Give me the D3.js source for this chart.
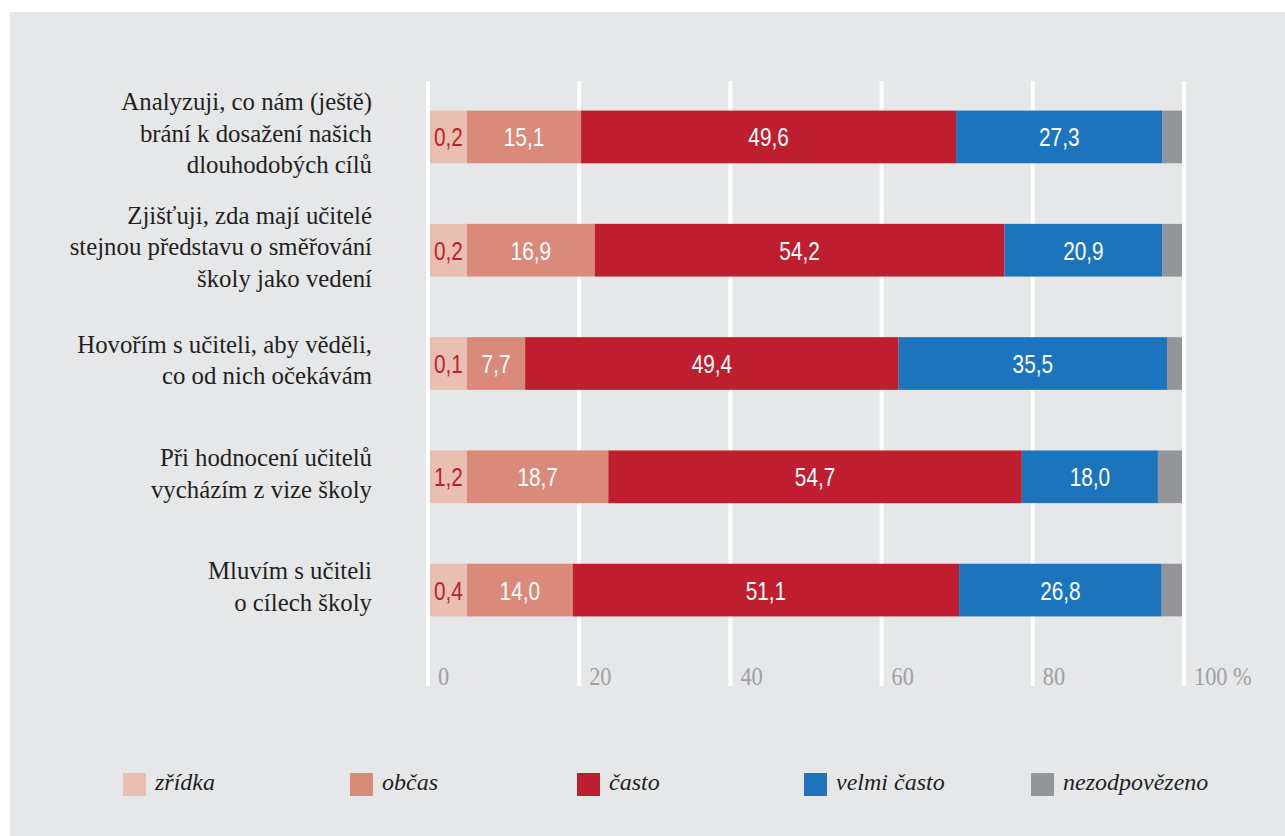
<!DOCTYPE html>
<html>
<head>
<meta charset="utf-8">
<script src="https://cdn.jsdelivr.net/npm/d3@7"></script>
<style>
  html, body { margin: 0; padding: 0; background: #ffffff; }
  svg { display: block; }
</style>
</head>
<body>
<svg id="chart" width="1285" height="836"></svg>
<script>
// ---- data ----
const categories = [
  ["Analyzuji, co nám (ještě)", "brání k dosažení našich", "dlouhodobých cílů"],
  ["Zjišťuji, zda mají učitelé", "stejnou představu o směřování", "školy jako vedení"],
  ["Hovořím s učiteli, aby věděli,", "co od nich očekávám"],
  ["Při hodnocení učitelů", "vycházím z vize školy"],
  ["Mluvím s učiteli", "o cílech školy"]
];
const zridka = [0.2, 0.2, 0.1, 1.2, 0.4];
const obcas = [15.1, 16.9, 7.7, 18.7, 14.0];
const casto = [49.6, 54.2, 49.4, 54.7, 51.1];
const velmiCasto = [27.3, 20.9, 35.5, 18.0, 26.8];
const seriesNames = ["zřídka", "občas", "často", "velmi často", "nezodpovězeno"];
const seriesColors = ["#e9bfb2", "#d98a78", "#be1e2d", "#1c75bc", "#939598"];
const tickValues = [0, 20, 40, 60, 80, 100];
const tickLabels = ["0", "20", "40", "60", "80", "100 %"];
// share of the axis reserved for the small "zřídka" label box
const rareBoxShare = 5.15;

// ---- layout ----
const svg = d3.select("#chart");
svg.append("rect").attr("x", 10).attr("y", 12).attr("width", 1275).attr("height", 824).attr("fill", "#e6e7e8");

const x = d3.scaleLinear().domain([0, 100]).range([428, 1184]);
const y = d3.scaleBand().domain(d3.range(categories.length)).range([80, 647]).paddingInner(0.535).paddingOuter(0.27);

const serif = "'Liberation Serif', 'DejaVu Serif', serif";
const sans = "'Liberation Sans', Arial, sans-serif";

// gridlines
svg.append("g").selectAll("line").data(tickValues).join("line")
  .attr("x1", d => x(d)).attr("x2", d => x(d))
  .attr("y1", 81).attr("y2", 686)
  .attr("stroke", "#ffffff").attr("stroke-width", 4);

// tick labels (condensed look)
svg.append("g").selectAll("text").data(tickValues).join("text")
  .attr("transform", d => `translate(${x(d) + 10},685) scale(0.86,1)`)
  .attr("font-family", serif).attr("font-size", 26).attr("fill", "#9d9fa2")
  .text((d, i) => tickLabels[i]);

// bars
const fmt = v => d3.format(".1f")(v).replace(".", ",");
const rows = categories.map((c, i) => {
  const s1 = rareBoxShare;
  const s2 = s1 + obcas[i];
  const s3 = s2 + casto[i];
  const s4 = s3 + velmiCasto[i];
  return [
    { k: 0, x0: x(0) + 2, x1: x(s1), label: fmt(zridka[i]) },
    { k: 1, x0: x(s1), x1: x(s2), label: fmt(obcas[i]) },
    { k: 2, x0: x(s2), x1: x(s3), label: fmt(casto[i]) },
    { k: 3, x0: x(s3), x1: x(s4), label: fmt(velmiCasto[i]) },
    { k: 4, x0: x(s4), x1: x(100) - 2, label: "" }
  ];
});

const bh = y.bandwidth();
const barG = svg.append("g");
rows.forEach((segs, i) => {
  const g = barG.append("g");
  g.selectAll("rect").data(segs).join("rect")
    .attr("x", d => d.x0).attr("width", d => Math.max(0, d.x1 - d.x0))
    .attr("y", y(i)).attr("height", bh)
    .attr("fill", d => seriesColors[d.k]);
  g.selectAll("text").data(segs.filter(d => d.label)).join("text")
    .attr("transform", d => `translate(${(d.x0 + d.x1) / 2},${y(i) + bh / 2 + 9.5}) scale(0.8,1)`)
    .attr("text-anchor", "middle")
    .attr("font-family", sans).attr("font-size", 26)
    .attr("fill", d => d.k === 0 ? "#be1e2d" : "#ffffff")
    .text(d => d.label);
});

// category labels
const lh = 31.5;
categories.forEach((lines, i) => {
  const cy = y(i) + bh / 2;
  const t = svg.append("text")
    .attr("text-anchor", "end")
    .attr("font-family", serif).attr("font-size", 24.8).attr("fill", "#231f20");
  lines.forEach((ln, j) => {
    t.append("tspan").attr("x", 372)
      .attr("y", cy + (j - (lines.length - 1) / 2) * lh + 5)
      .text(ln);
  });
});

// legend
const legX = d3.scalePoint().domain(seriesNames).range([123, 1031]);
const leg = svg.append("g").selectAll("g").data(seriesNames).join("g")
  .attr("transform", d => `translate(${legX(d)},773)`);
leg.append("rect").attr("width", 23).attr("height", 23).attr("fill", (d, i) => seriesColors[i]);
leg.append("text").attr("x", 32).attr("y", 17)
  .attr("font-family", serif).attr("font-style", "italic").attr("font-size", 24).attr("fill", "#231f20")
  .text(d => d);
</script>
</body>
</html>
